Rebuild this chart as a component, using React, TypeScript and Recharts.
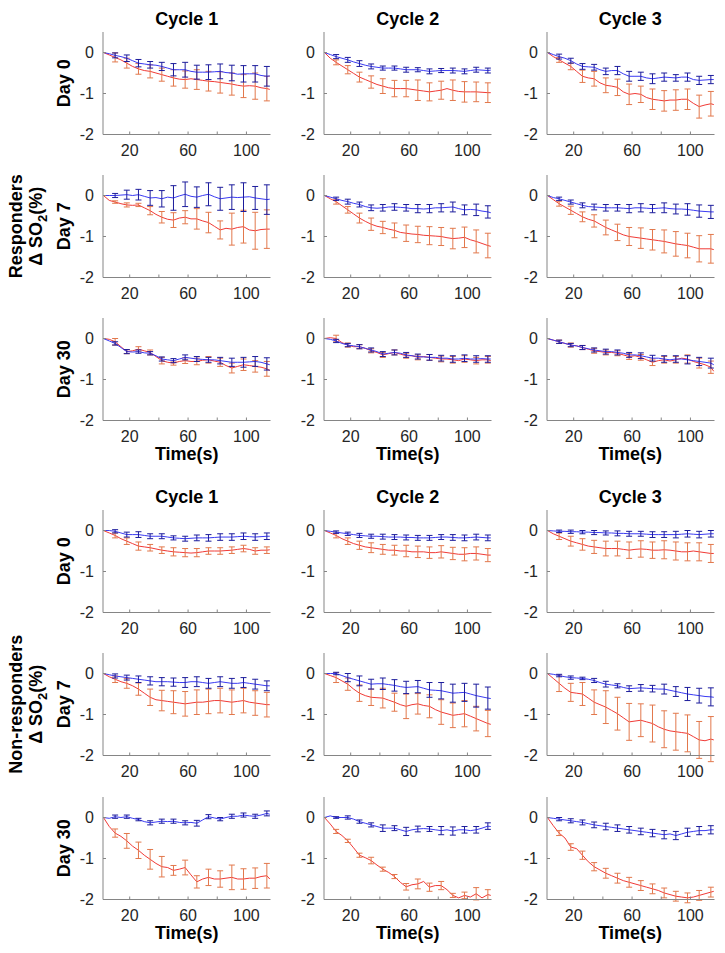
import React from 'react';
import { LineChart, Line, XAxis, YAxis, ErrorBar } from 'recharts';

// ---------- data ----------
const TIME = [2, 6, 10, 14, 18, 22, 26, 30, 34, 38, 42, 46, 50, 54, 58, 62, 66, 70, 74, 78, 82, 86, 90, 94, 98, 102, 106, 110, 114, 116];
const ERR_TIME = [10, 18, 26, 34, 42, 50, 58, 66, 74, 82, 90, 98, 106, 114];
const X_TICKS = [20, 40, 60, 80, 100];
const X_LABELED = [20, 60, 100];
const Y_TICKS = [-2, -1, 0];
const CYCLES = ['Cycle 1', 'Cycle 2', 'Cycle 3'];
const DAYS = ['Day 0', 'Day 7', 'Day 30'];
const GROUPS = ['Responders', 'Non-responders'];

// Responders
const R_D0_C1_BLUE = [0, -0.03, -0.07, -0.10, -0.14, -0.20, -0.26, -0.28, -0.30, -0.31, -0.34, -0.38, -0.42, -0.42, -0.42, -0.46, -0.48, -0.48, -0.48, -0.47, -0.46, -0.49, -0.50, -0.53, -0.52, -0.52, -0.52, -0.56, -0.58, -0.57];
const R_D0_C1_BLUE_ERR = [0.06, 0.08, 0.09, 0.08, 0.10, 0.15, 0.18, 0.17, 0.18, 0.18, 0.19, 0.20, 0.20, 0.24];
const R_D0_C1_RED = [0, -0.06, -0.12, -0.18, -0.26, -0.34, -0.40, -0.44, -0.46, -0.50, -0.54, -0.58, -0.62, -0.65, -0.66, -0.64, -0.66, -0.68, -0.70, -0.71, -0.73, -0.75, -0.77, -0.80, -0.82, -0.81, -0.82, -0.86, -0.88, -0.90];
const R_D0_C1_RED_ERR = [0.11, 0.12, 0.13, 0.16, 0.16, 0.20, 0.21, 0.24, 0.24, 0.26, 0.27, 0.28, 0.32, 0.30];

const R_D0_C2_BLUE = [0, -0.05, -0.10, -0.14, -0.18, -0.23, -0.27, -0.31, -0.34, -0.36, -0.38, -0.38, -0.38, -0.40, -0.42, -0.42, -0.42, -0.44, -0.46, -0.45, -0.44, -0.44, -0.44, -0.45, -0.46, -0.44, -0.42, -0.43, -0.44, -0.43];
const R_D0_C2_BLUE_ERR = [0.05, 0.06, 0.07, 0.06, 0.05, 0.05, 0.06, 0.05, 0.06, 0.05, 0.06, 0.06, 0.06, 0.06];
const R_D0_C2_RED = [0, -0.14, -0.24, -0.33, -0.42, -0.51, -0.60, -0.66, -0.72, -0.78, -0.82, -0.86, -0.88, -0.88, -0.88, -0.90, -0.92, -0.94, -0.96, -0.94, -0.92, -0.88, -0.92, -0.95, -0.96, -0.96, -0.96, -0.97, -0.98, -0.98];
const R_D0_C2_RED_ERR = [0.06, 0.10, 0.12, 0.15, 0.18, 0.20, 0.20, 0.25, 0.22, 0.22, 0.25, 0.25, 0.24, 0.24];

const R_D0_C3_BLUE = [0, -0.05, -0.10, -0.14, -0.20, -0.28, -0.34, -0.35, -0.36, -0.42, -0.46, -0.44, -0.44, -0.52, -0.58, -0.58, -0.58, -0.62, -0.64, -0.62, -0.60, -0.61, -0.62, -0.60, -0.60, -0.66, -0.68, -0.67, -0.66, -0.66];
const R_D0_C3_BLUE_ERR = [0.06, 0.06, 0.07, 0.07, 0.08, 0.10, 0.12, 0.10, 0.12, 0.10, 0.08, 0.10, 0.10, 0.10];
const R_D0_C3_RED = [0, -0.10, -0.18, -0.26, -0.34, -0.46, -0.58, -0.62, -0.64, -0.74, -0.80, -0.82, -0.85, -0.96, -1.02, -1.00, -1.02, -1.10, -1.14, -1.16, -1.18, -1.16, -1.16, -1.14, -1.14, -1.24, -1.32, -1.28, -1.25, -1.27];
const R_D0_C3_RED_ERR = [0.06, 0.08, 0.15, 0.18, 0.18, 0.20, 0.25, 0.20, 0.25, 0.25, 0.25, 0.25, 0.28, 0.30];

const R_D7_C1_BLUE = [0, 0, 0, 0.01, 0.02, 0, 0.02, -0.02, -0.06, -0.05, -0.08, -0.04, -0.06, -0.01, 0.03, -0.02, -0.04, 0, 0.03, -0.03, -0.08, -0.06, -0.04, -0.05, -0.04, -0.03, -0.06, -0.08, -0.10, -0.09];
const R_D7_C1_BLUE_ERR = [0.05, 0.11, 0.13, 0.18, 0.20, 0.30, 0.30, 0.25, 0.28, 0.28, 0.30, 0.35, 0.28, 0.36];
const R_D7_C1_RED = [0, -0.12, -0.16, -0.20, -0.23, -0.24, -0.23, -0.30, -0.37, -0.46, -0.53, -0.58, -0.60, -0.55, -0.53, -0.57, -0.57, -0.62, -0.66, -0.75, -0.84, -0.80, -0.82, -0.78, -0.76, -0.84, -0.86, -0.83, -0.82, -0.82];
const R_D7_C1_RED_ERR = [0.03, 0.05, 0.04, 0.10, 0.14, 0.18, 0.16, 0.25, 0.25, 0.22, 0.39, 0.40, 0.45, 0.47];

const R_D7_C2_BLUE = [0, -0.04, -0.08, -0.12, -0.15, -0.19, -0.22, -0.27, -0.30, -0.31, -0.30, -0.28, -0.28, -0.29, -0.30, -0.32, -0.32, -0.33, -0.32, -0.30, -0.30, -0.29, -0.28, -0.32, -0.35, -0.34, -0.35, -0.38, -0.40, -0.42];
const R_D7_C2_BLUE_ERR = [0.04, 0.06, 0.06, 0.07, 0.08, 0.08, 0.08, 0.10, 0.10, 0.10, 0.12, 0.12, 0.14, 0.15];
const R_D7_C2_RED = [0, -0.08, -0.15, -0.25, -0.35, -0.45, -0.55, -0.63, -0.70, -0.75, -0.78, -0.82, -0.85, -0.90, -0.92, -0.94, -0.95, -0.97, -0.98, -0.99, -1.00, -1.03, -1.05, -1.04, -1.02, -1.08, -1.12, -1.17, -1.22, -1.24];
const R_D7_C2_RED_ERR = [0.06, 0.08, 0.12, 0.15, 0.15, 0.18, 0.20, 0.20, 0.22, 0.22, 0.25, 0.25, 0.28, 0.30];

const R_D7_C3_BLUE = [0, -0.05, -0.08, -0.12, -0.16, -0.20, -0.24, -0.27, -0.28, -0.29, -0.30, -0.30, -0.30, -0.31, -0.32, -0.30, -0.30, -0.31, -0.32, -0.31, -0.30, -0.32, -0.33, -0.33, -0.34, -0.36, -0.38, -0.39, -0.40, -0.40];
const R_D7_C3_BLUE_ERR = [0.04, 0.05, 0.06, 0.07, 0.08, 0.08, 0.10, 0.10, 0.10, 0.12, 0.12, 0.14, 0.15, 0.16];
const R_D7_C3_RED = [0, -0.10, -0.20, -0.28, -0.36, -0.44, -0.52, -0.58, -0.62, -0.70, -0.78, -0.84, -0.90, -0.96, -1.00, -1.02, -1.04, -1.06, -1.08, -1.10, -1.12, -1.15, -1.18, -1.20, -1.22, -1.26, -1.30, -1.30, -1.30, -1.32];
const R_D7_C3_RED_ERR = [0.06, 0.10, 0.12, 0.15, 0.18, 0.20, 0.22, 0.25, 0.25, 0.28, 0.30, 0.30, 0.32, 0.35];

const R_D30_C1_BLUE = [0, -0.06, -0.12, -0.22, -0.32, -0.33, -0.32, -0.35, -0.36, -0.42, -0.50, -0.52, -0.54, -0.50, -0.46, -0.48, -0.50, -0.51, -0.52, -0.52, -0.54, -0.56, -0.58, -0.58, -0.58, -0.57, -0.56, -0.58, -0.62, -0.64];
const R_D30_C1_BLUE_ERR = [0.04, 0.05, 0.04, 0.04, 0.05, 0.05, 0.06, 0.06, 0.06, 0.08, 0.10, 0.12, 0.12, 0.15];
const R_D30_C1_RED = [0, -0.02, -0.08, -0.20, -0.32, -0.30, -0.26, -0.30, -0.34, -0.44, -0.54, -0.58, -0.60, -0.56, -0.54, -0.56, -0.56, -0.53, -0.52, -0.55, -0.58, -0.66, -0.72, -0.68, -0.64, -0.66, -0.68, -0.70, -0.74, -0.78];
const R_D30_C1_RED_ERR = [0.08, 0.05, 0.06, 0.06, 0.08, 0.05, 0.07, 0.08, 0.08, 0.10, 0.12, 0.14, 0.14, 0.18];

const R_D30_C2_BLUE = [0, -0.02, -0.06, -0.12, -0.16, -0.18, -0.20, -0.24, -0.28, -0.32, -0.38, -0.36, -0.34, -0.36, -0.40, -0.42, -0.44, -0.45, -0.46, -0.46, -0.48, -0.48, -0.50, -0.50, -0.48, -0.50, -0.50, -0.49, -0.50, -0.50];
const R_D30_C2_BLUE_ERR = [0.04, 0.04, 0.05, 0.05, 0.06, 0.06, 0.06, 0.06, 0.07, 0.07, 0.08, 0.08, 0.08, 0.08];
const R_D30_C2_RED = [0, 0.02, 0, -0.10, -0.16, -0.20, -0.20, -0.24, -0.30, -0.34, -0.40, -0.37, -0.34, -0.38, -0.42, -0.42, -0.46, -0.44, -0.46, -0.48, -0.50, -0.50, -0.52, -0.54, -0.50, -0.52, -0.54, -0.52, -0.52, -0.54];
const R_D30_C2_RED_ERR = [0.08, 0.05, 0.05, 0.05, 0.06, 0.06, 0.06, 0.06, 0.07, 0.07, 0.08, 0.08, 0.08, 0.08];

const R_D30_C3_BLUE = [0, -0.04, -0.08, -0.12, -0.16, -0.18, -0.22, -0.25, -0.28, -0.30, -0.32, -0.32, -0.34, -0.36, -0.40, -0.40, -0.42, -0.45, -0.48, -0.48, -0.50, -0.52, -0.50, -0.50, -0.52, -0.54, -0.56, -0.58, -0.60, -0.64];
const R_D30_C3_BLUE_ERR = [0.04, 0.04, 0.05, 0.05, 0.06, 0.06, 0.06, 0.07, 0.07, 0.08, 0.08, 0.10, 0.10, 0.12];
const R_D30_C3_RED = [0, -0.04, -0.08, -0.12, -0.16, -0.18, -0.22, -0.26, -0.30, -0.32, -0.34, -0.34, -0.36, -0.40, -0.44, -0.42, -0.46, -0.52, -0.58, -0.54, -0.52, -0.55, -0.52, -0.48, -0.50, -0.56, -0.60, -0.64, -0.70, -0.80];
const R_D30_C3_RED_ERR = [0.04, 0.05, 0.05, 0.06, 0.06, 0.06, 0.07, 0.07, 0.08, 0.08, 0.08, 0.10, 0.12, 0.15];

// Non-responders
const NR_D0_C1_BLUE = [0, 0, -0.02, -0.06, -0.10, -0.10, -0.10, -0.12, -0.14, -0.14, -0.14, -0.16, -0.18, -0.19, -0.20, -0.19, -0.18, -0.18, -0.18, -0.17, -0.16, -0.16, -0.16, -0.15, -0.14, -0.15, -0.16, -0.15, -0.14, -0.14];
const NR_D0_C1_BLUE_ERR = [0.04, 0.06, 0.07, 0.06, 0.06, 0.05, 0.06, 0.07, 0.08, 0.08, 0.08, 0.08, 0.08, 0.08];
const NR_D0_C1_RED = [0, -0.06, -0.12, -0.20, -0.26, -0.32, -0.38, -0.40, -0.42, -0.45, -0.48, -0.50, -0.52, -0.53, -0.54, -0.55, -0.54, -0.52, -0.50, -0.50, -0.50, -0.49, -0.48, -0.46, -0.44, -0.46, -0.50, -0.48, -0.48, -0.47];
const NR_D0_C1_RED_ERR = [0.06, 0.08, 0.10, 0.08, 0.08, 0.10, 0.10, 0.10, 0.08, 0.08, 0.08, 0.08, 0.08, 0.08];

const NR_D0_C2_BLUE = [0, -0.02, -0.04, -0.06, -0.08, -0.10, -0.12, -0.13, -0.14, -0.14, -0.15, -0.16, -0.16, -0.16, -0.17, -0.17, -0.18, -0.18, -0.18, -0.17, -0.16, -0.16, -0.17, -0.18, -0.18, -0.17, -0.16, -0.17, -0.18, -0.18];
const NR_D0_C2_BLUE_ERR = [0.03, 0.04, 0.05, 0.05, 0.06, 0.06, 0.06, 0.06, 0.06, 0.06, 0.07, 0.07, 0.07, 0.07];
const NR_D0_C2_RED = [0, -0.06, -0.12, -0.20, -0.26, -0.32, -0.36, -0.40, -0.42, -0.44, -0.46, -0.48, -0.48, -0.50, -0.50, -0.52, -0.52, -0.52, -0.54, -0.54, -0.52, -0.54, -0.56, -0.58, -0.58, -0.56, -0.56, -0.58, -0.60, -0.60];
const NR_D0_C2_RED_ERR = [0.06, 0.08, 0.10, 0.12, 0.12, 0.12, 0.14, 0.14, 0.14, 0.15, 0.15, 0.16, 0.16, 0.16];

const NR_D0_C3_BLUE = [0, -0.01, -0.02, -0.02, -0.03, -0.03, -0.04, -0.04, -0.05, -0.05, -0.06, -0.06, -0.07, -0.07, -0.08, -0.08, -0.08, -0.09, -0.10, -0.10, -0.10, -0.10, -0.10, -0.09, -0.08, -0.09, -0.10, -0.09, -0.08, -0.08];
const NR_D0_C3_BLUE_ERR = [0.03, 0.04, 0.04, 0.05, 0.05, 0.06, 0.06, 0.06, 0.07, 0.07, 0.08, 0.08, 0.08, 0.08];
const NR_D0_C3_RED = [0, -0.08, -0.14, -0.20, -0.26, -0.30, -0.34, -0.38, -0.40, -0.42, -0.44, -0.44, -0.44, -0.46, -0.48, -0.46, -0.45, -0.46, -0.48, -0.48, -0.47, -0.48, -0.50, -0.52, -0.52, -0.50, -0.52, -0.54, -0.56, -0.56];
const NR_D0_C3_RED_ERR = [0.08, 0.12, 0.14, 0.16, 0.18, 0.18, 0.20, 0.20, 0.20, 0.22, 0.22, 0.22, 0.22, 0.22];

const NR_D7_C1_BLUE = [0, -0.03, -0.06, -0.08, -0.10, -0.12, -0.14, -0.16, -0.18, -0.20, -0.20, -0.20, -0.21, -0.22, -0.22, -0.20, -0.20, -0.22, -0.24, -0.22, -0.20, -0.22, -0.24, -0.24, -0.22, -0.24, -0.26, -0.28, -0.30, -0.30];
const NR_D7_C1_BLUE_ERR = [0.05, 0.06, 0.08, 0.10, 0.10, 0.10, 0.12, 0.12, 0.12, 0.12, 0.12, 0.12, 0.12, 0.12];
const NR_D7_C1_RED = [0, -0.08, -0.14, -0.20, -0.24, -0.30, -0.38, -0.48, -0.58, -0.64, -0.66, -0.68, -0.70, -0.72, -0.74, -0.72, -0.70, -0.70, -0.68, -0.66, -0.66, -0.68, -0.70, -0.68, -0.66, -0.70, -0.72, -0.74, -0.76, -0.76];
const NR_D7_C1_RED_ERR = [0.08, 0.12, 0.15, 0.20, 0.25, 0.28, 0.30, 0.30, 0.30, 0.30, 0.30, 0.30, 0.30, 0.30];

const NR_D7_C2_BLUE = [0, 0, 0, -0.05, -0.10, -0.14, -0.18, -0.22, -0.26, -0.25, -0.25, -0.27, -0.29, -0.32, -0.34, -0.33, -0.32, -0.36, -0.40, -0.41, -0.42, -0.45, -0.48, -0.47, -0.46, -0.50, -0.54, -0.57, -0.60, -0.61];
const NR_D7_C2_BLUE_ERR = [0.03, 0.10, 0.12, 0.12, 0.14, 0.14, 0.15, 0.15, 0.18, 0.20, 0.22, 0.22, 0.28, 0.27];
const NR_D7_C2_RED = [0, -0.05, -0.10, -0.18, -0.26, -0.38, -0.48, -0.54, -0.58, -0.59, -0.60, -0.65, -0.70, -0.76, -0.80, -0.76, -0.74, -0.78, -0.80, -0.88, -0.94, -0.98, -1.02, -1.00, -0.98, -1.04, -1.10, -1.16, -1.22, -1.24];
const NR_D7_C2_RED_ERR = [0.12, 0.15, 0.20, 0.20, 0.24, 0.22, 0.30, 0.25, 0.28, 0.30, 0.30, 0.32, 0.30, 0.32];

const NR_D7_C3_BLUE = [0, -0.02, -0.05, -0.08, -0.10, -0.11, -0.12, -0.14, -0.17, -0.22, -0.26, -0.28, -0.30, -0.34, -0.37, -0.36, -0.35, -0.36, -0.37, -0.38, -0.38, -0.41, -0.44, -0.47, -0.50, -0.52, -0.54, -0.56, -0.57, -0.58];
const NR_D7_C3_BLUE_ERR = [0.03, 0.04, 0.03, 0.05, 0.07, 0.05, 0.07, 0.08, 0.08, 0.12, 0.12, 0.16, 0.18, 0.22];
const NR_D7_C3_RED = [0, -0.12, -0.24, -0.36, -0.46, -0.48, -0.50, -0.60, -0.70, -0.76, -0.82, -0.90, -0.98, -1.08, -1.18, -1.16, -1.14, -1.18, -1.22, -1.30, -1.36, -1.40, -1.42, -1.44, -1.46, -1.54, -1.62, -1.64, -1.60, -1.62];
const NR_D7_C3_RED_ERR = [0.20, 0.22, 0.28, 0.30, 0.40, 0.40, 0.45, 0.40, 0.45, 0.45, 0.45, 0.45, 0.45, 0.55];

const NR_D30_C1_BLUE = [0, -0.02, 0.02, 0, 0.02, -0.02, -0.05, -0.10, -0.13, -0.11, -0.09, -0.10, -0.09, -0.12, -0.13, -0.12, -0.14, -0.06, 0.02, -0.01, -0.04, 0, 0.03, 0.03, 0.06, 0.04, 0.03, 0.06, 0.10, 0.08];
const NR_D30_C1_BLUE_ERR = [0.04, 0.04, 0.03, 0.05, 0.05, 0.05, 0.05, 0.07, 0.05, 0.04, 0.05, 0.05, 0.05, 0.06];
const NR_D30_C1_RED = [0, -0.22, -0.38, -0.46, -0.57, -0.70, -0.80, -0.92, -1.02, -1.12, -1.20, -1.22, -1.29, -1.26, -1.22, -1.40, -1.57, -1.50, -1.46, -1.50, -1.50, -1.48, -1.46, -1.50, -1.50, -1.48, -1.48, -1.44, -1.42, -1.50];
const NR_D30_C1_RED_ERR = [0.10, 0.18, 0.20, 0.24, 0.25, 0.12, 0.18, 0.15, 0.20, 0.20, 0.30, 0.25, 0.25, 0.30];

const NR_D30_C2_BLUE = [0, 0.04, 0, 0, 0, -0.04, -0.10, -0.14, -0.18, -0.22, -0.26, -0.26, -0.26, -0.30, -0.34, -0.30, -0.28, -0.27, -0.28, -0.30, -0.32, -0.30, -0.33, -0.30, -0.30, -0.32, -0.30, -0.26, -0.21, -0.22];
const NR_D30_C2_BLUE_ERR = [0.02, 0.04, 0.04, 0.05, 0.08, 0.06, 0.10, 0.07, 0.06, 0.10, 0.10, 0.08, 0.08, 0.08];
const NR_D30_C2_RED = [0, -0.16, -0.34, -0.44, -0.57, -0.74, -0.92, -0.98, -1.05, -1.16, -1.26, -1.34, -1.44, -1.58, -1.69, -1.64, -1.62, -1.56, -1.70, -1.66, -1.66, -1.76, -1.90, -1.96, -1.90, -1.94, -1.86, -1.96, -1.88, -1.90];
const NR_D30_C2_RED_ERR = [0.05, 0.04, 0.05, 0.08, 0.05, 0.05, 0.08, 0.12, 0.10, 0.10, 0.05, 0.08, 0.15, 0.12];

const NR_D30_C3_BLUE = [0, -0.02, -0.04, -0.06, -0.08, -0.10, -0.12, -0.15, -0.18, -0.20, -0.22, -0.24, -0.26, -0.28, -0.30, -0.32, -0.34, -0.36, -0.38, -0.40, -0.42, -0.40, -0.44, -0.40, -0.36, -0.34, -0.32, -0.32, -0.30, -0.30];
const NR_D30_C3_BLUE_ERR = [0.04, 0.05, 0.06, 0.07, 0.08, 0.08, 0.08, 0.08, 0.09, 0.10, 0.10, 0.10, 0.10, 0.10];
const NR_D30_C3_RED = [0, -0.20, -0.38, -0.50, -0.72, -0.76, -0.92, -1.08, -1.20, -1.28, -1.36, -1.42, -1.48, -1.54, -1.58, -1.62, -1.66, -1.70, -1.74, -1.78, -1.84, -1.88, -1.92, -1.94, -1.96, -1.94, -1.90, -1.86, -1.82, -1.80];
const NR_D30_C3_RED_ERR = [0.06, 0.08, 0.10, 0.10, 0.12, 0.12, 0.12, 0.12, 0.12, 0.12, 0.12, 0.12, 0.12, 0.12];

// panel table: [group][day][cycle]
const PANELS = [
  [
    [[R_D0_C1_BLUE, R_D0_C1_BLUE_ERR, R_D0_C1_RED, R_D0_C1_RED_ERR], [R_D0_C2_BLUE, R_D0_C2_BLUE_ERR, R_D0_C2_RED, R_D0_C2_RED_ERR], [R_D0_C3_BLUE, R_D0_C3_BLUE_ERR, R_D0_C3_RED, R_D0_C3_RED_ERR]],
    [[R_D7_C1_BLUE, R_D7_C1_BLUE_ERR, R_D7_C1_RED, R_D7_C1_RED_ERR], [R_D7_C2_BLUE, R_D7_C2_BLUE_ERR, R_D7_C2_RED, R_D7_C2_RED_ERR], [R_D7_C3_BLUE, R_D7_C3_BLUE_ERR, R_D7_C3_RED, R_D7_C3_RED_ERR]],
    [[R_D30_C1_BLUE, R_D30_C1_BLUE_ERR, R_D30_C1_RED, R_D30_C1_RED_ERR], [R_D30_C2_BLUE, R_D30_C2_BLUE_ERR, R_D30_C2_RED, R_D30_C2_RED_ERR], [R_D30_C3_BLUE, R_D30_C3_BLUE_ERR, R_D30_C3_RED, R_D30_C3_RED_ERR]],
  ],
  [
    [[NR_D0_C1_BLUE, NR_D0_C1_BLUE_ERR, NR_D0_C1_RED, NR_D0_C1_RED_ERR], [NR_D0_C2_BLUE, NR_D0_C2_BLUE_ERR, NR_D0_C2_RED, NR_D0_C2_RED_ERR], [NR_D0_C3_BLUE, NR_D0_C3_BLUE_ERR, NR_D0_C3_RED, NR_D0_C3_RED_ERR]],
    [[NR_D7_C1_BLUE, NR_D7_C1_BLUE_ERR, NR_D7_C1_RED, NR_D7_C1_RED_ERR], [NR_D7_C2_BLUE, NR_D7_C2_BLUE_ERR, NR_D7_C2_RED, NR_D7_C2_RED_ERR], [NR_D7_C3_BLUE, NR_D7_C3_BLUE_ERR, NR_D7_C3_RED, NR_D7_C3_RED_ERR]],
    [[NR_D30_C1_BLUE, NR_D30_C1_BLUE_ERR, NR_D30_C1_RED, NR_D30_C1_RED_ERR], [NR_D30_C2_BLUE, NR_D30_C2_BLUE_ERR, NR_D30_C2_RED, NR_D30_C2_RED_ERR], [NR_D30_C3_BLUE, NR_D30_C3_BLUE_ERR, NR_D30_C3_RED, NR_D30_C3_RED_ERR]],
  ],
];

// ---------- layout / style ----------
const COL_LEFT = [103, 324, 546.5];
const GROUP_ROW_TOP = [[32, 175, 318], [510, 653, 797]];
const PW = 167.5;
const PH = 102.5;
const YW = 40;
const XH = 30;
const PAD = 2;
const X_DOMAIN = [1.7, 116.5];
const Y_DOMAIN = [-2, 0.5];

const FONT = "'Liberation Sans', Arial, Helvetica, sans-serif";
const AXIS_COLOR = '#858585';
const TEXT_COLOR = '#262626';
const BLUE_LINE = '#3a3af2';
const BLUE_ERR = '#1c1c9c';
const RED_LINE = '#f03a36';
const RED_ERR = '#e2784c';

function Panel({ left, top, series }: { left: number; top: number; series: number[][] }) {
  const [blue, blueErr, red, redErr] = series;
  const lineData = TIME.map((t, i) => ({ t, b: blue[i], r: red[i] }));
  const errBlue = ERR_TIME.map((t, k) => ({ t, v: blue[TIME.indexOf(t)], e: blueErr[k] }));
  const errRed = ERR_TIME.map((t, k) => ({ t, v: red[TIME.indexOf(t)], e: redErr[k] }));
  const w = YW + PW + PAD;
  const h = PH + XH + PAD;
  const tickStyle = { fill: TEXT_COLOR, fontSize: 16, fontFamily: FONT };
  return (
    <div style={{ position: 'absolute', left: left - YW, top: top - PAD, width: w, height: h }}>
      <LineChart width={w} height={h} margin={{ top: PAD, right: PAD, bottom: 0, left: 0 }}>
        <XAxis xAxisId="b" dataKey="t" type="number" domain={X_DOMAIN} ticks={X_TICKS} interval={0}
          allowDataOverflow height={XH} tickSize={-3} tickMargin={13} stroke={AXIS_COLOR}
          tick={tickStyle} tickFormatter={(v: number) => (X_LABELED.includes(v) ? String(v) : '')} />
        <XAxis xAxisId="t" orientation="top" dataKey="t" type="number" domain={X_DOMAIN} ticks={X_TICKS} interval={0}
          allowDataOverflow height={0} tickSize={-3} tick={false} stroke={AXIS_COLOR} />
        <YAxis yAxisId="l" type="number" domain={Y_DOMAIN} ticks={Y_TICKS} interval={0} allowDataOverflow
          width={YW} tickSize={-3} tickMargin={12} stroke={AXIS_COLOR} tick={tickStyle}
          tickFormatter={(v: number) => String(v)} />
        <YAxis yAxisId="r" orientation="right" type="number" domain={Y_DOMAIN} ticks={Y_TICKS} interval={0}
          allowDataOverflow width={0} tickSize={-3} tick={false} stroke={AXIS_COLOR} />
        <Line xAxisId="b" yAxisId="l" data={lineData} dataKey="r" stroke={RED_LINE} strokeWidth={1}
          dot={false} activeDot={false} isAnimationActive={false} />
        <Line xAxisId="b" yAxisId="l" data={errRed} dataKey="v" stroke="none" dot={false} activeDot={false}
          isAnimationActive={false}>
          <ErrorBar dataKey="e" direction="y" width={3} stroke={RED_ERR} strokeWidth={1} isAnimationActive={false} />
        </Line>
        <Line xAxisId="b" yAxisId="l" data={lineData} dataKey="b" stroke={BLUE_LINE} strokeWidth={1}
          dot={false} activeDot={false} isAnimationActive={false} />
        <Line xAxisId="b" yAxisId="l" data={errBlue} dataKey="v" stroke="none" dot={false} activeDot={false}
          isAnimationActive={false}>
          <ErrorBar dataKey="e" direction="y" width={3} stroke={BLUE_ERR} strokeWidth={1} isAnimationActive={false} />
        </Line>
      </LineChart>
    </div>
  );
}

export default function App() {
  const labels: React.ReactNode[] = [];
  GROUPS.forEach((g, gi) => {
    const tops = GROUP_ROW_TOP[gi];
    CYCLES.forEach((c, ci) => {
      labels.push(
        <text key={`c${gi}${ci}`} x={COL_LEFT[ci] + PW / 2} y={tops[0] - 7} textAnchor="middle"
          fontWeight="bold" fontSize={18} fill="#000">{c}</text>
      );
      labels.push(
        <text key={`t${gi}${ci}`} x={COL_LEFT[ci] + PW / 2} y={tops[2] + PH + 39} textAnchor="middle"
          fontWeight="bold" fontSize={18} fill="#000">Time(s)</text>
      );
    });
    DAYS.forEach((d, di) => {
      const cy = tops[di] + PH / 2;
      labels.push(
        <text key={`d${gi}${di}`} x={69.5} y={cy} textAnchor="middle" fontWeight="bold" fontSize={18}
          fill="#000" transform={`rotate(-90 69.5 ${cy})`}>{d}</text>
      );
    });
    const my = tops[1] + PH / 2;
    labels.push(
      <text key={`g${gi}`} x={22} y={my} textAnchor="middle" fontWeight="bold" fontSize={18}
        fill="#000" transform={`rotate(-90 22 ${my})`}>{g}</text>
    );
    labels.push(
      <text key={`s${gi}`} x={42} y={my} textAnchor="middle" fontWeight="bold" fontSize={18}
        fill="#000" transform={`rotate(-90 42 ${my})`}>
        <tspan>Δ SO</tspan><tspan dy={5} fontSize={13}>2</tspan><tspan dy={-5}>(%)</tspan>
      </text>
    );
  });

  return (
    <div style={{ position: 'absolute', left: 0, top: 0, width: 725, height: 953, background: '#fff', fontFamily: FONT }}>
      <svg width={725} height={953} style={{ position: 'absolute', left: 0, top: 0 }} fontFamily={FONT}>
        {labels}
      </svg>
      {PANELS.map((group, gi) =>
        group.map((row, di) =>
          row.map((series, ci) => (
            <Panel key={`${gi}-${di}-${ci}`} left={COL_LEFT[ci]} top={GROUP_ROW_TOP[gi][di]} series={series} />
          ))
        )
      )}
    </div>
  );
}
